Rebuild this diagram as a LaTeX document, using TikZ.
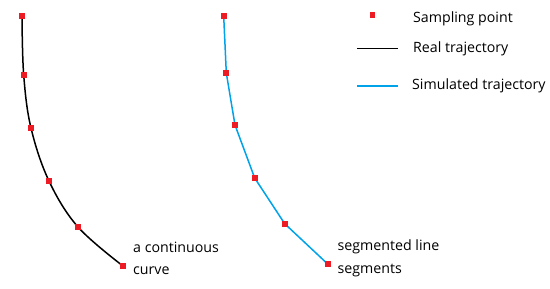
\documentclass[tikz,border=0pt]{standalone}
\usepackage{fontspec}
\setmainfont{Open Sans}
\definecolor{sampred}{RGB}{237,28,36}
\definecolor{simblue}{RGB}{0,162,232}
\tikzset{
  samp/.style={fill=sampred, draw=none, minimum size=6pt, inner sep=0pt, outer sep=0pt, rectangle},
  lbl/.style={anchor=west, inner sep=0pt, font=\fontsize{14.2}{17}\selectfont},
  realtraj/.style={black, line width=1.5pt},
  simtraj/.style={simblue, line width=1.5pt},
}
\begin{document}
\begin{tikzpicture}[x=1pt,y=-1pt]
\useasboundingbox (0,0) rectangle (550,289);
% real trajectory
\coordinate (a1) at (22,16);
\coordinate (a2) at (23.7,75);
\coordinate (a3) at (31,128);
\coordinate (a4) at (49,181);
\coordinate (a5) at (78,227);
\coordinate (a6) at (123,266);
\draw[realtraj] plot[smooth, tension=0.6] coordinates {(22,16) (23.7,75) (31,128) (49,181) (78,227) (123,266)};
\foreach \i in {1,...,6} \node[samp] (pa\i) at (a\i) {};
% simulated trajectory
\node[samp] (b1) at (223.7,16) {};
\node[samp] (b2) at (226.3,73) {};
\node[samp] (b3) at (235,125) {};
\node[samp] (b4) at (254.7,178) {};
\node[samp] (b5) at (284.7,223.7) {};
\node[samp] (b6) at (328,264.3) {};
\draw[simtraj] (b1.center) -- (b2.center) -- (b3.center) -- (b4.center) -- (b5.center) -- (b6.center);
\foreach \i in {1,...,6} \node[samp] at (b\i) {};
% labels
\node[lbl] (l1) at (133,247) {a continuous};
\node[lbl] (l2) at (133,271) {curve};
\node[lbl] (l3) at (337.5,247) {segmented line};
\node[lbl] (l4) at (337.5,271) {segments};
% legend
\node[samp, minimum size=5.5pt] (leg1) at (372.3,15) {};
\coordinate (lr1) at (357,48.5);
\coordinate (lr2) at (398,48.5);
\draw[realtraj, line width=1.3pt] (lr1) -- (lr2);
\coordinate (ls1) at (357,86);
\coordinate (ls2) at (398,86);
\draw[simtraj, line width=1.3pt] (ls1) -- (ls2);
\node[lbl] (t1) at (413,19) {Sampling point};
\node[lbl] (t2) at (413,49) {Real trajectory};
\node[lbl] (t3) at (412,86) {Simulated trajectory};
\end{tikzpicture}
\end{document}
